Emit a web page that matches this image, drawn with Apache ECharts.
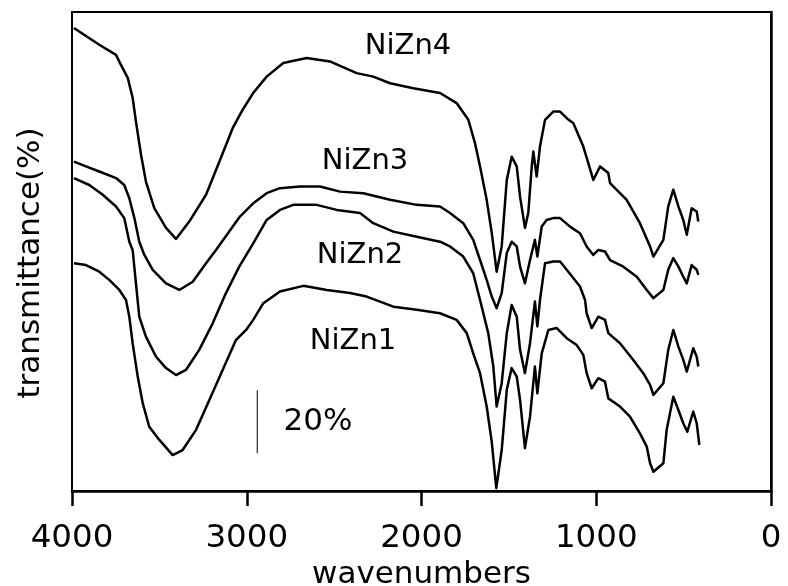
<!DOCTYPE html>
<html>
<head>
<meta charset="utf-8">
<script src="https://cdn.jsdelivr.net/npm/echarts@6/dist/echarts.min.js"></script>
<style>html,body{margin:0;padding:0;background:#fff}#c{width:788px;height:586px}</style>
</head>
<body>
<div id="c"></div>
<script>
// x tick labels (wavenumbers, reversed axis)
const xTicks = [4000, 3000, 2000, 1000, 0];

// NiZn4 (top trace)
const nizn4Wave = [3989,3844,3748,3720,3681,3653,3634,3605,3577,3529,3462,3405,3329,3233,3157,3080,3023,2963,2886,2791,2657,2524,2371,2276,2180,2047,1894,1799,1732,1694,1665,1627,1598,1570,1541,1512,1484,1455,1436,1408,1389,1369,1360,1341,1322,1293,1246,1207,1169,1131,1074,1045,1017,978,931,921,826,750,692,673,616,588,559,530,502,482,454,425,416];
const nizn4T = [146.9,141.6,138.4,135.2,131.1,124.8,117.2,106.7,98.2,89.8,83.5,80.0,85.5,94.0,104.5,115.2,121.0,126.3,131.5,135.8,137.4,136.3,132.6,131.5,129.4,127.8,126.3,123.1,117.8,110.4,103.0,92.4,81.9,69.6,77.6,98.7,106.1,103.0,93.4,83.5,88.2,103.0,107.7,99.8,109.3,117.8,120.4,120.4,118.3,116.7,109.3,104.0,98.7,103.0,100.9,97.7,92.4,85.0,77.6,74.4,79.7,90.3,95.6,90.3,86.0,81.3,89.7,88.7,85.5];

// NiZn3
const nizn3Wave = [3989,3920,3844,3748,3701,3672,3643,3615,3586,3538,3462,3386,3309,3233,3176,3039,2963,2886,2810,2695,2581,2466,2333,2180,2027,1894,1837,1761,1704,1665,1627,1598,1570,1541,1512,1484,1455,1436,1408,1379,1351,1337,1312,1284,1246,1207,1150,1093,1055,1017,988,950,921,845,768,711,673,616,588,559,530,502,482,454,425,416];
const nizn3T = [104.5,103.0,101.4,99.3,97.1,92.9,86.6,79.1,74.9,70.2,65.9,63.8,66.4,72.3,76.5,87.1,91.3,94.5,96.1,96.6,96.6,95.0,94.5,92.4,90.8,90.3,88.2,85.0,79.7,73.3,67.0,61.7,58.0,62.8,75.5,79.1,77.6,71.2,65.9,73.3,79.7,74.4,83.9,86.0,86.6,86.6,83.9,81.8,77.6,74.9,76.5,76.0,73.3,71.2,68.0,63.8,61.2,63.8,70.2,73.9,71.2,68.0,65.9,71.7,70.2,68.6];

// NiZn2
const nizn2Wave = [3989,3901,3824,3748,3701,3672,3653,3634,3615,3577,3519,3462,3405,3348,3272,3195,3119,3043,2963,2886,2810,2734,2600,2485,2352,2276,2161,2027,1894,1837,1761,1704,1665,1618,1589,1570,1541,1512,1484,1455,1436,1408,1379,1351,1337,1322,1293,1246,1207,1169,1093,1064,1055,1026,988,950,931,864,788,731,692,673,616,588,559,530,502,482,445,425,416];
const nizn2T = [99.3,97.1,94.0,90.3,86.6,79.1,76.5,65.9,55.3,49.0,42.6,39.0,36.8,38.4,44.8,53.2,62.8,71.2,78.6,86.0,89.2,90.8,90.8,89.2,88.2,85.0,82.3,80.7,79.1,77.6,74.4,69.1,60.6,50.1,39.5,26.8,34.2,50.1,59.0,55.3,44.8,37.4,46.9,60.1,52.2,60.6,72.3,72.8,72.8,70.2,64.9,60.6,56.4,51.7,55.3,54.3,50.1,46.9,41.6,37.4,33.7,30.5,34.2,44.8,51.1,45.8,41.6,37.9,45.3,42.6,39.5];

// NiZn1 (bottom trace)
const nizn1Wave = [3989,3920,3844,3787,3729,3691,3672,3653,3624,3595,3558,3500,3424,3367,3290,3214,3138,3062,3004,2963,2905,2810,2676,2542,2409,2314,2161,2027,1894,1799,1741,1704,1665,1627,1598,1572,1541,1512,1484,1455,1436,1408,1379,1351,1337,1312,1274,1226,1169,1112,1074,1055,1026,988,950,931,864,807,750,711,692,673,616,597,559,530,502,479,445,425,410];
const nizn1T = [72.3,71.7,69.6,67.0,63.8,60.6,55.3,46.9,36.3,27.8,20.4,16.2,11.4,13.0,19.4,28.9,38.4,47.9,51.1,54.3,59.6,63.3,65.1,63.8,62.8,61.7,58.5,57.5,56.4,54.3,50.1,43.7,37.4,26.8,15.6,0.9,13.0,32.1,39.0,36.3,28.9,13.6,23.6,39.5,31.0,43.7,51.1,51.7,48.5,46.3,43.2,37.4,32.6,35.8,34.7,29.4,26.8,23.6,18.3,14.1,8.8,6.1,8.8,19.4,29.9,25.7,21.5,18.8,25.2,21.5,14.6];

// 20% scale bar (wavenumber, transmittance)
const scaleBarWave = [2940, 2940];
const scaleBarT = [12, 32];

const seriesNames = ['NiZn4', 'NiZn3', 'NiZn2', 'NiZn1'];

function zip(a, b) { const n = Math.min(a.length, b.length); const r = []; for (let i = 0; i < n; i++) r.push([a[i], b[i]]); return r; }

const FONT = 'DejaVu Sans, Verdana, sans-serif';
const chart = echarts.init(document.getElementById('c'), null, { renderer: 'canvas' });

const lineSeries = (name, data, w) => ({
  name, type: 'line', data, showSymbol: false, symbol: 'none', smooth: false,
  lineStyle: { color: '#000', width: w, join: 'round' }, animation: false, silent: true
});

chart.setOption({
  backgroundColor: '#fff',
  animation: false,
  grid: { left: 72, right: 17, top: 12, bottom: 95, show: true, borderColor: '#000', borderWidth: 2, containLabel: false, outerBoundsMode: 'none' },
  xAxis: {
    type: 'value', min: 0, max: 4000, interval: 1000, inverse: true,
    name: 'wavenumbers', nameLocation: 'middle', nameGap: 62,
    nameTextStyle: { fontFamily: FONT, fontSize: 31, color: '#000' },
    axisLine: { show: true, lineStyle: { color: '#000', width: 2.5 } },
    axisTick: { show: true, inside: false, length: 15, lineStyle: { color: '#000', width: 2.5 } },
    axisLabel: { fontFamily: FONT, fontSize: 32.5, color: '#000', margin: 31,
      formatter: v => (xTicks.indexOf(v) >= 0 ? String(v) : '') },
    splitLine: { show: false }
  },
  yAxis: {
    type: 'value', min: 0, max: 152,
    axisLine: { show: true, lineStyle: { color: '#000', width: 2.5 } },
    axisTick: { show: false }, axisLabel: { show: false }, splitLine: { show: false }
  },
  series: [
    lineSeries(seriesNames[0], zip(nizn4Wave, nizn4T), 2.5),
    lineSeries(seriesNames[1], zip(nizn3Wave, nizn3T), 2.5),
    lineSeries(seriesNames[2], zip(nizn2Wave, nizn2T), 2.5),
    lineSeries(seriesNames[3], zip(nizn1Wave, nizn1T), 2.5),
    lineSeries('scale', zip(scaleBarWave, scaleBarT), 1)
  ],
  graphic: [
    { type: 'text', x: 31, y: 263, rotation: Math.PI / 2, style: { text: 'transmittance(%)', fontFamily: FONT, fontSize: 31, fill: '#000', align: 'center', verticalAlign: 'middle' } },
    { type: 'text', x: 408, y: 46, style: { text: 'NiZn4', fontFamily: FONT, fontSize: 29, fill: '#000', align: 'center', verticalAlign: 'middle' } },
    { type: 'text', x: 365, y: 161, style: { text: 'NiZn3', fontFamily: FONT, fontSize: 29, fill: '#000', align: 'center', verticalAlign: 'middle' } },
    { type: 'text', x: 360, y: 255, style: { text: 'NiZn2', fontFamily: FONT, fontSize: 29, fill: '#000', align: 'center', verticalAlign: 'middle' } },
    { type: 'text', x: 353, y: 341, style: { text: 'NiZn1', fontFamily: FONT, fontSize: 29, fill: '#000', align: 'center', verticalAlign: 'middle' } },
    { type: 'text', x: 318, y: 422, style: { text: '20%', fontFamily: FONT, fontSize: 31, fill: '#000', align: 'center', verticalAlign: 'middle' } }
  ]
});
</script>
</body>
</html>
